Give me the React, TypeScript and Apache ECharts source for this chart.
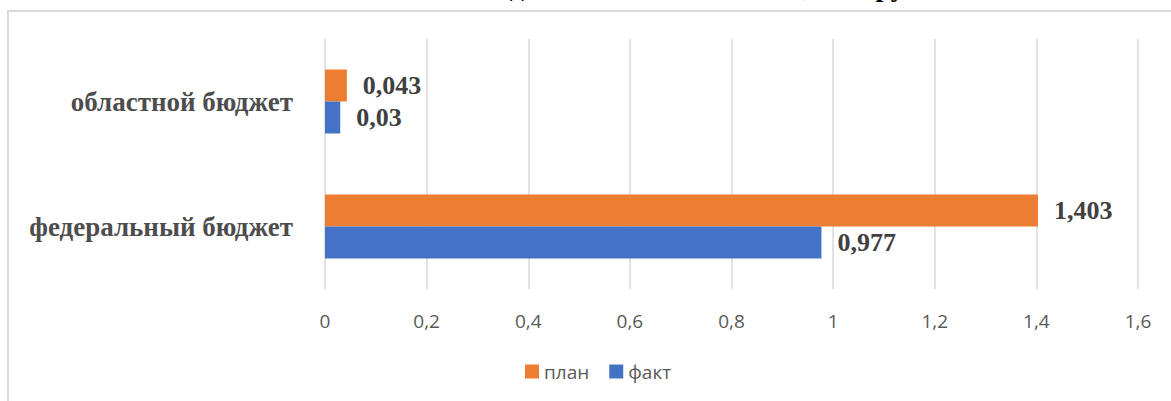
import React, { useEffect, useRef } from "react";
import * as echarts from "echarts";

const categories = ["федеральный бюджет", "областной бюджет"];
const planValues = [1.403, 0.043];
const factValues = [0.977, 0.03];
const seriesNames = ["план", "факт"];
const titleText = "Объем бюджетных ассигнований, млн руб.";
const xMin = 0;
const xMax = 1.6;
const xStep = 0.2;

const fmt = (v: number) => String(v).replace(".", ",");

export default function App() {
  const ref = useRef<HTMLDivElement>(null);
  useEffect(() => {
    if (!ref.current) return;
    const chart = echarts.init(ref.current, null, { renderer: "svg" });
    const valueLabel = {
      show: true,
      position: "right" as const,
      distance: 16,
      fontFamily: "Liberation Serif",
      fontWeight: "bold" as const,
      fontSize: 26,
      color: "#404040",
      formatter: (p: any) => fmt(p.value),
    };
    chart.setOption({
      animation: false,
      graphic: [
        {
          type: "rect",
          shape: { x: 8, y: 11, width: 1300, height: 600 },
          style: { fill: "none", stroke: "#d9d9d9", lineWidth: 2 },
          silent: true,
          z: -10,
        },
        {
          type: "text",
          x: 386,
          y: -14,
          style: {
            text: titleText,
            font: "bold 28px 'Liberation Serif'",
            fill: "#000000",
            align: "left",
            verticalAlign: "middle",
          },
          silent: true,
        },
      ],
      grid: { left: 325, right: 33, top: 39, bottom: 112 },
      legend: {
        data: seriesNames,
        top: 357,
        left: 520,
        itemWidth: 14,
        itemHeight: 14,
        itemGap: 20,
        icon: "rect",
        textStyle: { fontFamily: "Open Sans", fontSize: 19, color: "#595959" },
      },
      xAxis: {
        type: "value",
        min: xMin,
        max: xMax,
        interval: xStep,
        axisLine: { show: false },
        axisTick: { show: false },
        splitLine: { show: true, lineStyle: { color: "#d9d9d9", width: 1.5 } },
        axisLabel: {
          margin: 22,
          fontFamily: "Open Sans",
          fontSize: 19,
          color: "#595959",
          formatter: (v: number) => fmt(Math.round(v * 10) / 10),
        },
      },
      yAxis: {
        type: "category",
        data: categories,
        axisLine: { show: false },
        axisTick: { show: false },
        axisLabel: {
          margin: 32,
          fontFamily: "Liberation Serif",
          fontWeight: "bold",
          fontSize: 27,
          color: "#4d4d4d",
        },
      },
      series: [
        {
          name: seriesNames[0],
          type: "bar",
          data: planValues,
          barWidth: 32,
          barGap: "0%",
          itemStyle: { color: "#ED7D31" },
          label: valueLabel,
        },
        {
          name: seriesNames[1],
          type: "bar",
          data: factValues,
          barWidth: 32,
          barGap: "0%",
          itemStyle: { color: "#4472C4" },
          label: valueLabel,
        },
      ],
    });
    return () => chart.dispose();
  }, []);
  return (
    <div
      ref={ref}
      style={{ position: "absolute", left: 0, top: 0, width: 1171, height: 401, background: "#fff" }}
    />
  );
}
